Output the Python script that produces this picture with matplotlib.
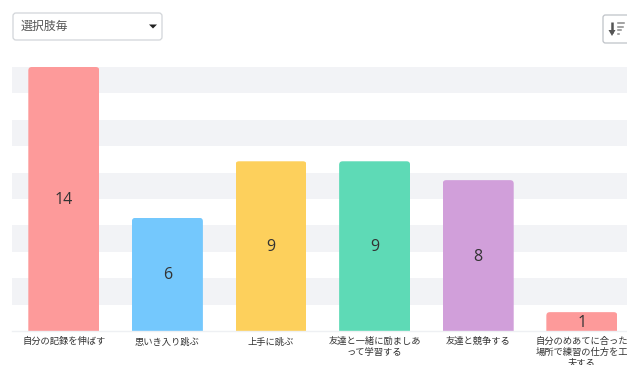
import matplotlib
matplotlib.use("Agg")
import matplotlib.pyplot as plt
from matplotlib.patches import FancyBboxPatch, Polygon

plt.rcParams['font.family'] = ['Noto Sans CJK JP', 'DejaVu Sans']

categories = ["自分の記録を伸ばす", "思いき入り跳ぶ", "上手に跳ぶ",
              "友達と一緒に励ましあ\nって学習する", "友達と競争する",
              "自分のめあてに合った\n場所で練習の仕方を工\n夫する"]
counts = [14, 6, 9, 9, 8, 1]
bar_colors = ["#fd9a9a", "#74c8fd", "#fdd05c", "#5edab6", "#d19fda", "#fd9a9a"]
band_edges = [(12.6, 14), (9.8, 11.2), (7.0, 8.4), (4.2, 5.6), (1.4, 2.8)]
selector_label = "選択肢毎"

W, H = 627, 365
fig = plt.figure(figsize=(W / 100, H / 100), dpi=100, facecolor="white")

# Plot area in pixels: left 12, right 627, baseline 331, top of scale 67
ax_left, ax_right, ax_base, ax_top = 12, 627, 331, 67
ax = fig.add_axes([ax_left / W, 1 - ax_base / H,
                   (ax_right - ax_left) / W, (ax_base - ax_top) / H])
ax.set_xlim(-0.5, 5.436)
ax.set_ylim(0, 14)
ax.patch.set_alpha(0)
for side in ax.spines.values():
    side.set_visible(False)
ax.spines["bottom"].set_visible(True)
ax.spines["bottom"].set_color("#eef0f3")
ax.spines["bottom"].set_linewidth(1)

for low, high in band_edges:
    ax.axhspan(low, high, color="#f2f3f6", lw=0, zorder=0)

bars = ax.bar(range(len(counts)), counts, width=0.685, color=bar_colors, zorder=2)

# Round only the top corners: clip each bar to a rounded box reaching below the baseline
px_x = (ax_right - ax_left) / (ax.get_xlim()[1] - ax.get_xlim()[0])
px_y = (ax_base - ax_top) / 14
for bar in bars:
    radius = 3.5 / px_x
    aspect = px_x / px_y
    clip = FancyBboxPatch(
        (bar.get_x() + radius, -1), bar.get_width() - 2 * radius,
        bar.get_height() + 1 - radius * aspect,
        boxstyle=f"round,pad={radius},rounding_size={radius}",
        mutation_aspect=aspect, transform=ax.transData,
        fc="none", ec="none")
    ax.add_patch(clip)
    bar.set_clip_path(clip)

for i, value in enumerate(counts):
    ax.annotate(str(value), (i, value / 2), xytext=(0, -1), textcoords="offset pixels",
                ha="center", va="center", fontsize=11.5,
                color="#333333", family=["Open Sans", "DejaVu Sans"], zorder=3)

ax.set_yticks([])
ax.set_xticks(range(len(categories)))
ax.set_xticklabels(categories, fontsize=6.7, color="#333333", linespacing=1.2, va="top")
ax.tick_params(axis="x", length=0, pad=4.5)

# Overlay in pixel coordinates for the selector and the sort button
ui = fig.add_axes([0, 0, 1, 1])
ui.set_xlim(0, W)
ui.set_ylim(H, 0)
ui.axis("off")
ui.patch.set_alpha(0)

ui.add_patch(FancyBboxPatch((16, 16), 143, 21, boxstyle="round,pad=3,rounding_size=3",
                            fc="white", ec="#d2d5d9", lw=0.9))
ui.text(21, 26, selector_label, fontsize=8.6, color="#555555", va="center", ha="left")
ui.add_patch(Polygon([(149, 24.5), (157, 24.5), (153, 28.5)], closed=True, fc="#222222", ec="none"))

ui.add_patch(FancyBboxPatch((605, 17), 30, 24, boxstyle="round,pad=2,rounding_size=2.5",
                            fc="white", ec="#bfc3c8", lw=0.9))
# Sort icon: down arrow followed by shrinking bars
ui.plot([612, 612], [22, 33], color="#555555", lw=1.8, solid_capstyle="butt")
ui.add_patch(Polygon([(608.5, 30), (615.5, 30), (612, 36)], closed=True, fc="#555555", ec="none"))
for y_pos, x_end in [(23, 624), (26.5, 622.5), (30, 620.5), (33.5, 619)]:
    ui.plot([617.5, x_end], [y_pos, y_pos], color="#8a8a8a", lw=1.1)

fig.savefig("out.png", dpi=100, facecolor="white")
